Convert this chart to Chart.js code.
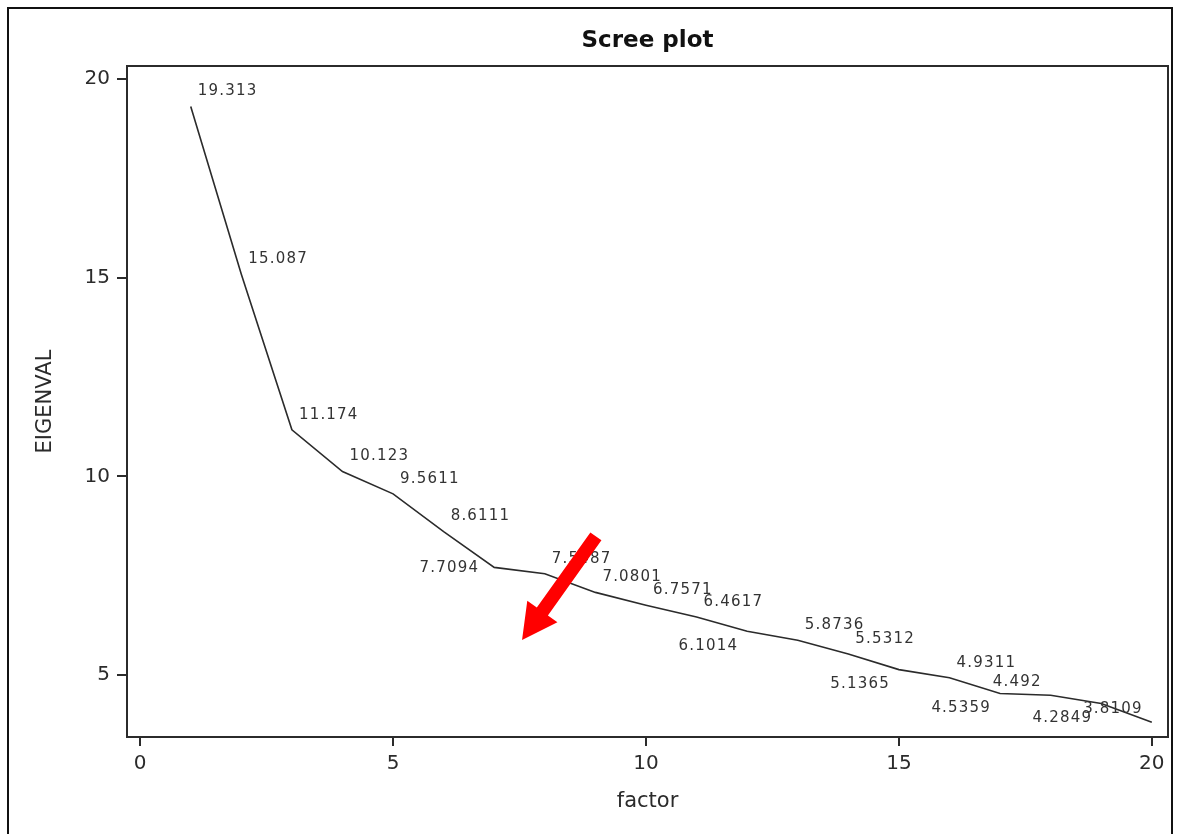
<!DOCTYPE html>
<html lang="en">
<head>
    <meta charset="UTF-8" />
    <title>Scree plot</title>
    <style>
        html, body { margin: 0; padding: 0; background: #fff; overflow: hidden; }
        #frame {
            position: absolute; left: 7px; top: 7px;
            width: 1166px; height: 900px;
            border: 2px solid #111; box-sizing: border-box;
        }
        #wrap { position: absolute; left: 0; top: 0; width: 1178px; height: 834px; }
    </style>
</head>
<body>
<div id="frame"></div>
<div id="wrap"><canvas id="screeChart" width="1178" height="834"></canvas></div>

<script src="https://cdn.jsdelivr.net/npm/chart.js"></script>
<script>
    // factor number and eigenvalue
    const factors = [1, 2, 3, 4, 5, 6, 7, 8, 9, 10, 11, 12, 13, 14, 15, 16, 17, 18, 19, 20];
    const eigenvals = [19.313, 15.087, 11.174, 10.123, 9.5611, 8.6111, 7.7094, 7.5487, 7.0801, 6.7571,
                       6.4617, 6.1014, 5.8736, 5.5312, 5.1365, 4.9311, 4.5359, 4.492, 4.2849, 3.8109];
    const valueLabels = ['19.313', '15.087', '11.174', '10.123', '9.5611', '8.6111', '7.7094', '7.5487', '7.0801', '6.7571',
                         '6.4617', '6.1014', '5.8736', '5.5312', '5.1365', '4.9311', '4.5359', '4.492', '4.2849', '3.8109'];
    // where each value label sits relative to its point
    const labelPos = ['ne', 'ne', 'ne', 'ne', 'ne', 'ne', 'w', 'ne', 'ne', 'ne',
                      'ne', 'sw', 'ne', 'ne', 'sw', 'ne', 'sw', 'nw', 'sw', 'nw'];
    const xTicks = [0, 5, 10, 15, 20];
    const yTicks = [5, 10, 15, 20];
    // red arrow annotation, in data units: tail then tip
    const arrowTail = { x: 9.01, y: 8.49 };
    const arrowTip = { x: 7.55, y: 5.88 };

    const ink = '#2b2b2b';
    const font = 'DejaVu Sans';

    const screePlugin = {
        id: 'scree',
        afterDatasetsDraw(chart) {
            const { ctx, chartArea, scales } = chart;
            const xs = scales.x, ys = scales.y;

            // value labels
            ctx.save();
            ctx.font = '15px "' + font + '"';
            ctx.fillStyle = '#333';
            ctx.letterSpacing = '1.2px';
            ctx.textBaseline = 'middle';
            factors.forEach((f, i) => {
                const px = xs.getPixelForValue(f);
                const py = ys.getPixelForValue(eigenvals[i]);
                const pos = labelPos[i];
                if (pos === 'ne') {
                    ctx.textAlign = 'left';
                    ctx.fillText(valueLabels[i], px + 7, py - 15);
                } else if (pos === 'w') {
                    ctx.textAlign = 'right';
                    ctx.fillText(valueLabels[i], px - 15, py + 1);
                } else if (pos === 'sw') {
                    ctx.textAlign = 'right';
                    ctx.fillText(valueLabels[i], px - 9, py + 15);
                } else {
                    ctx.textAlign = 'right';
                    ctx.fillText(valueLabels[i], px - 9, py - 13);
                }
            });
            ctx.restore();

            // plot frame
            ctx.save();
            ctx.strokeStyle = ink;
            ctx.lineWidth = 2;
            ctx.strokeRect(chartArea.left, chartArea.top, chartArea.right - chartArea.left, chartArea.bottom - chartArea.top);
            ctx.restore();

            // title
            ctx.save();
            ctx.font = 'bold 23px "' + font + '"';
            ctx.fillStyle = '#111';
            ctx.textAlign = 'center';
            ctx.textBaseline = 'middle';
            ctx.fillText('Scree plot', (chartArea.left + chartArea.right) / 2, 41);
            ctx.restore();

            // arrow
            const x0 = xs.getPixelForValue(arrowTail.x), y0 = ys.getPixelForValue(arrowTail.y);
            const x1 = xs.getPixelForValue(arrowTip.x), y1 = ys.getPixelForValue(arrowTip.y);
            const len = Math.hypot(x1 - x0, y1 - y0);
            const ux = (x1 - x0) / len, uy = (y1 - y0) / len;
            const nx = -uy, ny = ux;
            const shaft = 6.8, head = 18.5, headLen = 35;
            const bx = x1 - ux * headLen, by = y1 - uy * headLen;
            ctx.save();
            ctx.fillStyle = '#ff0000';
            ctx.beginPath();
            ctx.moveTo(x0 + nx * shaft, y0 + ny * shaft);
            ctx.lineTo(bx + nx * shaft, by + ny * shaft);
            ctx.lineTo(bx + nx * head, by + ny * head);
            ctx.lineTo(x1, y1);
            ctx.lineTo(bx - nx * head, by - ny * head);
            ctx.lineTo(bx - nx * shaft, by - ny * shaft);
            ctx.lineTo(x0 - nx * shaft, y0 - ny * shaft);
            ctx.closePath();
            ctx.fill();
            ctx.restore();
        }
    };

    const ctx = document.getElementById('screeChart').getContext('2d');
    new Chart(ctx, {
        type: 'line',
        data: {
            datasets: [{
                label: 'EIGENVAL',
                data: factors.map((f, i) => ({ x: f, y: eigenvals[i] })),
                borderColor: ink,
                borderWidth: 1.6,
                pointRadius: 0,
                fill: false,
                tension: 0
            }]
        },
        options: {
            responsive: false,
            animation: false,
            layout: { padding: { top: 66, right: 10, left: 0, bottom: 0 } },
            plugins: {
                legend: { display: false },
                tooltip: { enabled: false },
                title: { display: false }
            },
            scales: {
                x: {
                    type: 'linear',
                    min: -0.26,
                    max: 20.32,
                    afterFit: s => { s.height = 97; },
                    afterBuildTicks: s => { s.ticks = xTicks.map(v => ({ value: v })); },
                    ticks: { color: ink, font: { family: font, size: 20 }, padding: 6, maxRotation: 0 },
                    grid: { drawOnChartArea: false, drawTicks: true, tickLength: 9, color: ink, lineWidth: 2 },
                    border: { display: true, color: ink, width: 2 },
                    title: { display: true, text: 'factor', color: ink, font: { family: font, size: 21 }, padding: { top: 0, bottom: 20 } }
                },
                y: {
                    type: 'linear',
                    min: 3.44,
                    max: 20.33,
                    afterFit: s => { s.width = 127; },
                    afterBuildTicks: s => { s.ticks = yTicks.map(v => ({ value: v })); },
                    ticks: { color: ink, font: { family: font, size: 20 }, padding: 7 },
                    grid: { drawOnChartArea: false, drawTicks: true, tickLength: 10, color: ink, lineWidth: 2 },
                    border: { display: true, color: ink, width: 2 },
                    title: { display: true, text: 'EIGENVAL', color: ink, font: { family: font, size: 21 }, padding: { top: 33, bottom: 0 } }
                }
            }
        },
        plugins: [screePlugin]
    });
</script>
</body>
</html>
